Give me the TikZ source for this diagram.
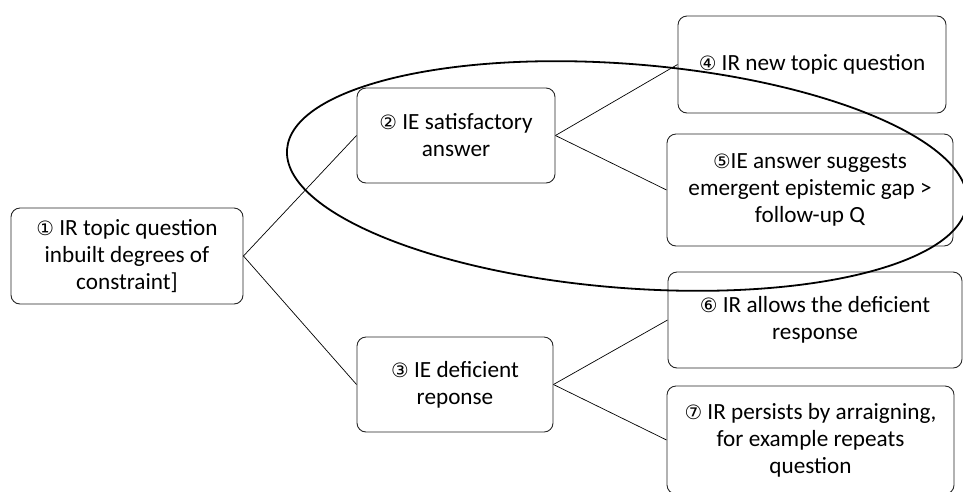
\documentclass[tikz,border=0pt]{standalone}
\usepackage{fontspec}
\setmainfont{Carlito}
\newfontfamily\circfont[Scale=0.85]{DejaVu Sans}
\usepackage{tikz}
\newcommand{\cn}[1]{{\circfont #1}}
\tikzset{box/.style={draw=black!85,line width=0.9pt,rounded corners=9pt,align=center,inner sep=0pt,font=\fontsize{23.2}{27}\selectfont},
  link/.style={line width=0.7pt},
  ring/.style={line width=1.8pt}}

\begin{document}
\begin{tikzpicture}[x=1pt,y=-1pt]
        \useasboundingbox (0,0) rectangle (963,491);
        \node [box,minimum width=232pt,minimum height=96pt] (n1) at (127,256) {\cn{①} IR topic question\\inbuilt degrees of\\constraint]};
        \node [box,minimum width=198pt,minimum height=95pt] (n2) at (456,135.5) {\cn{②} IE satisfactory\\answer};
        \node [box,minimum width=196pt,minimum height=95pt] (n3) at (455,384.5) {\cn{③} IE deficient\\reponse};
        \node [box,minimum width=268pt,minimum height=97pt] (n4) at (812,64.5) {\cn{④} IR new topic question};
        \node [box,minimum width=286pt,minimum height=112pt] (n5) at (810,190) {\cn{⑤}IE answer suggests\\emergent epistemic gap >\\follow-up Q};
        \node [box,minimum width=294pt,minimum height=96pt] (n6) at (815,320) {\cn{⑥} IR allows the deficient\\response};
        \node [box,minimum width=287pt,minimum height=108pt] (n7) at (810.5,440) {\cn{⑦} IR persists by arraigning,\\for example repeats\\question};
        \draw [link] (n1.east)--(n2.west);
        \draw [link] (n1.east)--(n3.west);
        \draw [link] (n2.east)--(n4.west);
        \draw [link] (n2.east)--(n5.west);
        \draw [link] (n3.east)--(n6.west);
        \draw [link] (n3.east)--(n7.west);
        \draw [ring,rotate around={-4.5:(627,176)}] (627,176) ellipse (341pt and 112pt);
      \end{tikzpicture}
\end{document}
